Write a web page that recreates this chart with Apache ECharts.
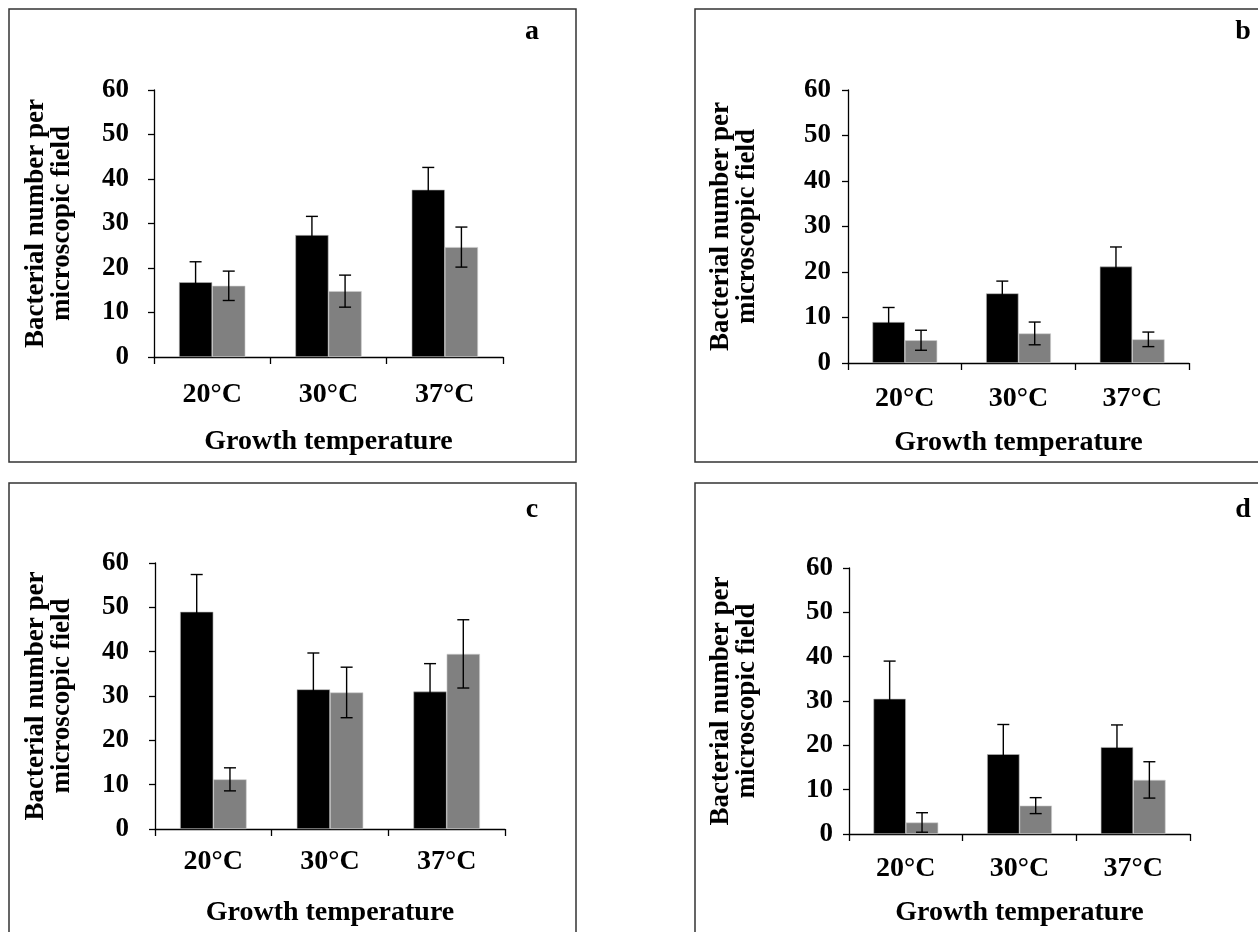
<!DOCTYPE html>
<html>
<head>
<meta charset="utf-8">
<script src="https://cdn.jsdelivr.net/npm/echarts@6/dist/echarts.min.js"></script>
<style>
html,body{margin:0;padding:0;background:#fff;}
#chart{width:1258px;height:932px;}
</style>
</head>
<body>
<div id="chart"></div>
<script>
// ---- data ----
const categories = ['20°C', '30°C', '37°C'];
const yTicks = [0, 10, 20, 30, 40, 50, 60];
const panelLetters = ['a', 'b', 'c', 'd'];

const aBlack = [16.8, 27.4, 37.6];
const aBlackErr = [4.6, 4.2, 5.0];
const aGray = [16.0, 14.8, 24.7];
const aGrayErr = [3.3, 3.6, 4.5];

const bBlack = [9.0, 15.3, 21.2];
const bBlackErr = [3.2, 2.7, 4.3];
const bGray = [5.0, 6.5, 5.2];
const bGrayErr = [2.2, 2.5, 1.6];

const cBlack = [49.0, 31.5, 31.0];
const cBlackErr = [8.4, 8.2, 6.3];
const cGray = [11.2, 30.8, 39.5];
const cGrayErr = [2.6, 5.7, 7.7];

const dBlack = [30.5, 18.0, 19.6];
const dBlackErr = [8.5, 6.7, 5.0];
const dGray = [2.6, 6.4, 12.2];
const dGrayErr = [2.2, 1.8, 4.1];

const yTitle = 'Bacterial number per\nmicroscopic field';
const xTitle = 'Growth temperature';

// ---- layout ----
const FONT = 'Liberation Serif';
const panels = [
  {black: aBlack, blackErr: aBlackErr, gray: aGray, grayErr: aGrayErr,
   grid: {left: 154, top: 90, width: 349, height: 267}, yMargin: 25, xMargin: 24, yGap: 79, xGap: 71,
   frame: [9, 9, 567, 453], letter: [532, 32]},
  {black: bBlack, blackErr: bBlackErr, gray: bGray, grayErr: bGrayErr,
   grid: {left: 848, top: 90, width: 341, height: 273}, yMargin: 17, xMargin: 22, yGap: 88, xGap: 66,
   frame: [695, 9, 580, 453], letter: [1243, 32]},
  {black: cBlack, blackErr: cBlackErr, gray: cGray, grayErr: cGrayErr,
   grid: {left: 155, top: 563, width: 350, height: 266}, yMargin: 26, xMargin: 19, yGap: 80, xGap: 70,
   frame: [9, 483, 567, 470], letter: [532, 510]},
  {black: dBlack, blackErr: dBlackErr, gray: dGray, grayErr: dGrayErr,
   grid: {left: 849, top: 568, width: 341, height: 266}, yMargin: 16, xMargin: 21, yGap: 89, xGap: 65,
   frame: [695, 483, 580, 470], letter: [1243, 510]}
];

const GAP = 0.43; // bar category gap
const textStyle = {fontFamily: FONT, fontWeight: 'bold', color: '#000'};

const grids = [], xAxes = [], yAxes = [], series = [], graphics = [];

panels.forEach((p, i) => {
  grids.push(Object.assign({containLabel: false}, p.grid));
  xAxes.push({
    type: 'category', gridIndex: i, data: categories,
    axisLine: {lineStyle: {color: '#000', width: 1.3}},
    axisTick: {show: true, length: 7, lineStyle: {color: '#000', width: 1.3}},
    axisLabel: Object.assign({fontSize: 28, margin: p.xMargin}, textStyle),
    name: xTitle, nameLocation: 'middle', nameGap: p.xGap,
    nameTextStyle: Object.assign({fontSize: 28}, textStyle),
    splitLine: {show: false}
  });
  yAxes.push({
    type: 'value', gridIndex: i, min: yTicks[0], max: yTicks[yTicks.length - 1], interval: 10,
    axisLine: {show: true, lineStyle: {color: '#000', width: 1.3}},
    axisTick: {show: true, length: 6, lineStyle: {color: '#000', width: 1.3}},
    axisLabel: Object.assign({fontSize: 27, margin: p.yMargin}, textStyle),
    splitLine: {show: false},
    name: yTitle, nameLocation: 'middle', nameRotate: 90, nameGap: p.yGap,
    nameTextStyle: Object.assign({fontSize: 27, lineHeight: 26, align: 'center'}, textStyle)
  });
  series.push({
    type: 'bar', xAxisIndex: i, yAxisIndex: i, data: p.black,
    barGap: '0%', barCategoryGap: (GAP * 100) + '%',
    itemStyle: {color: '#000', borderColor: '#bbb', borderWidth: 0.6}, silent: true
  });
  series.push({
    type: 'bar', xAxisIndex: i, yAxisIndex: i, data: p.gray,
    barGap: '0%', barCategoryGap: (GAP * 100) + '%',
    itemStyle: {color: '#808080', borderColor: '#ccc', borderWidth: 0.6}, silent: true
  });
  [[p.black, p.blackErr, -1], [p.gray, p.grayErr, 1]].forEach(([vals, errs, side]) => {
    series.push({
      type: 'custom', xAxisIndex: i, yAxisIndex: i, z: 10, silent: true,
      data: vals.map((v, k) => [k, v, errs[k]]),
      encode: {x: 0, y: 1},
      renderItem: function (params, api) {
        const x = api.value(0), v = api.value(1), e = api.value(2);
        const band = api.size([1, 0])[0];
        const off = side * band * (1 - GAP) / 4;
        const top = api.coord([x, v + e]);
        const bot = api.coord([x, v - e]);
        const cx = top[0] + off;
        const cap = 6;
        const style = {stroke: '#000', lineWidth: 1.4};
        return {
          type: 'group', children: [
            {type: 'line', shape: {x1: cx, y1: top[1], x2: cx, y2: bot[1]}, style: style},
            {type: 'line', shape: {x1: cx - cap, y1: top[1], x2: cx + cap, y2: top[1]}, style: style},
            {type: 'line', shape: {x1: cx - cap, y1: bot[1], x2: cx + cap, y2: bot[1]}, style: style}
          ]
        };
      }
    });
  });
  graphics.push({
    type: 'rect', silent: true, z: -1,
    shape: {x: p.frame[0], y: p.frame[1], width: p.frame[2], height: p.frame[3]},
    style: {fill: 'none', stroke: '#333', lineWidth: 1.5}
  });
  graphics.push({
    type: 'text', silent: true, x: p.letter[0], y: p.letter[1],
    style: {text: panelLetters[i], font: 'bold 28px "' + FONT + '"', fill: '#000',
            textAlign: 'center', textVerticalAlign: 'middle'}
  });
});

const chart = echarts.init(document.getElementById('chart'), null, {renderer: 'canvas'});
chart.setOption({
  animation: false,
  backgroundColor: '#fff',
  grid: grids, xAxis: xAxes, yAxis: yAxes, series: series, graphic: graphics
});
</script>
</body>
</html>
